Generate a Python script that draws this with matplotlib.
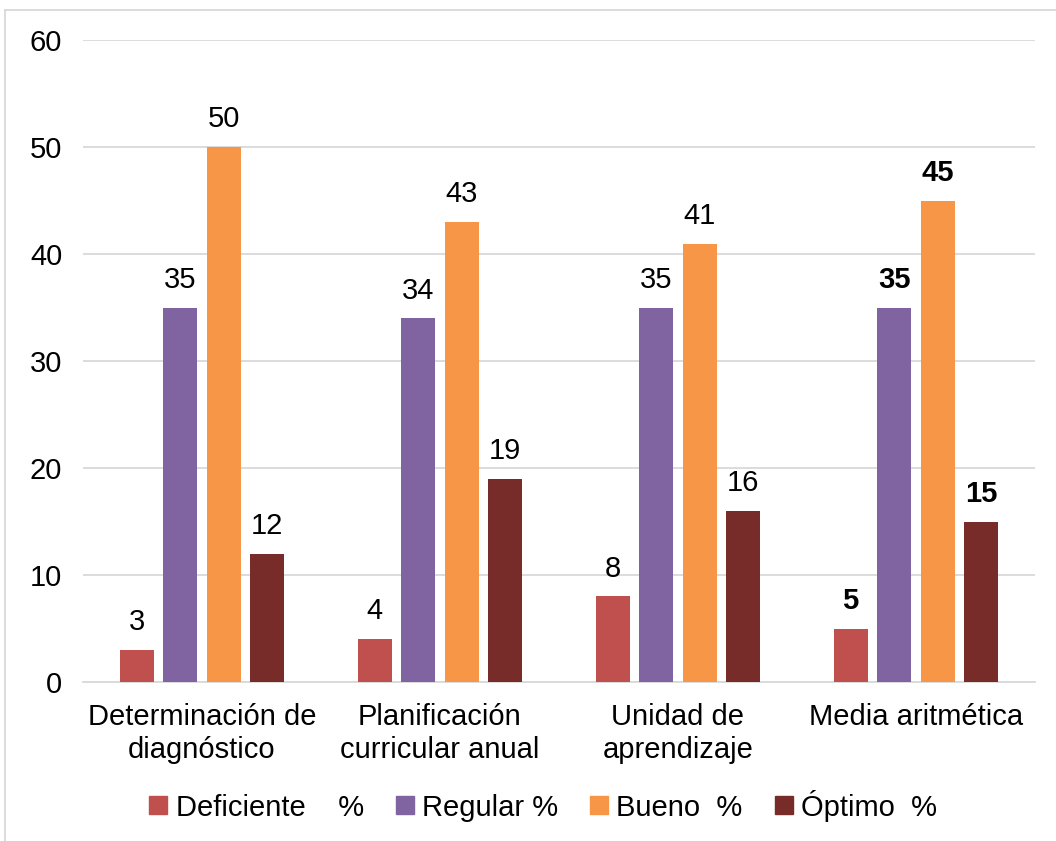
import matplotlib.pyplot as plt
import numpy as np
from matplotlib.lines import Line2D

plt.rcParams['font.family'] = ['Liberation Sans', 'DejaVu Sans']

categories = ["Determinación de\ndiagnóstico", "Planificación\ncurricular anual",
              "Unidad de\naprendizaje", "Media aritmética"]
series_names = ["Deficiente    %", "Regular %", "Bueno  %", "Óptimo  %"]
deficiente = [3, 4, 8, 5]
regular = [35, 34, 35, 35]
bueno = [50, 43, 41, 45]
optimo = [12, 19, 16, 15]
colors = ['#C0504D', '#8064A2', '#F79646', '#772C2A']

fig = plt.figure(figsize=(10.56, 8.41), dpi=100)
ax = fig.add_axes([0.0786, 0.189, 0.9014, 0.763])

x = np.arange(len(categories))
width = 0.143
step = 0.183
for i, vals in enumerate([deficiente, regular, bueno, optimo]):
    pos = x + (i - 1.5) * step
    ax.bar(pos, vals, width, color=colors[i], zorder=3)
    for j, (p, v) in enumerate(zip(pos, vals)):
        ax.text(p, v + 1.3, str(v), ha='center', va='bottom', fontsize=21,
                fontweight='bold' if j == 3 else 'normal')

ax.set_xlim(-0.5, 3.5)
ax.set_ylim(0, 60)
ax.set_yticks(range(0, 61, 10))
ax.yaxis.grid(True, color='#D9D9D9', linewidth=1.3, zorder=0)
for s in ['top', 'right', 'left']:
    ax.spines[s].set_visible(False)
ax.spines['bottom'].set_color('#D9D9D9')
ax.spines['bottom'].set_linewidth(1.3)
ax.tick_params(axis='both', length=0, labelsize=21)
ax.tick_params(axis='y', pad=15)
ax.tick_params(axis='x', pad=15)
ax.set_xticks(x)
ax.set_xticklabels(categories, linespacing=1.25)

handles = [Line2D([], [], marker='s', linestyle='', color=c, markersize=13) for c in colors]
fig.legend(handles, series_names, loc='center', bbox_to_anchor=(0.513, 0.042), ncol=4,
           frameon=False, fontsize=21, handlelength=0.8, handletextpad=0.2,
           columnspacing=1.0)

# chart border (top and left edges visible)
fig.add_artist(Line2D([0.005, 1.0], [0.988, 0.988], color='#D9D9D9', linewidth=1.3))
fig.add_artist(Line2D([0.005, 0.005], [0.0, 0.988], color='#D9D9D9', linewidth=1.3))

fig.savefig('out.png', dpi=100)
